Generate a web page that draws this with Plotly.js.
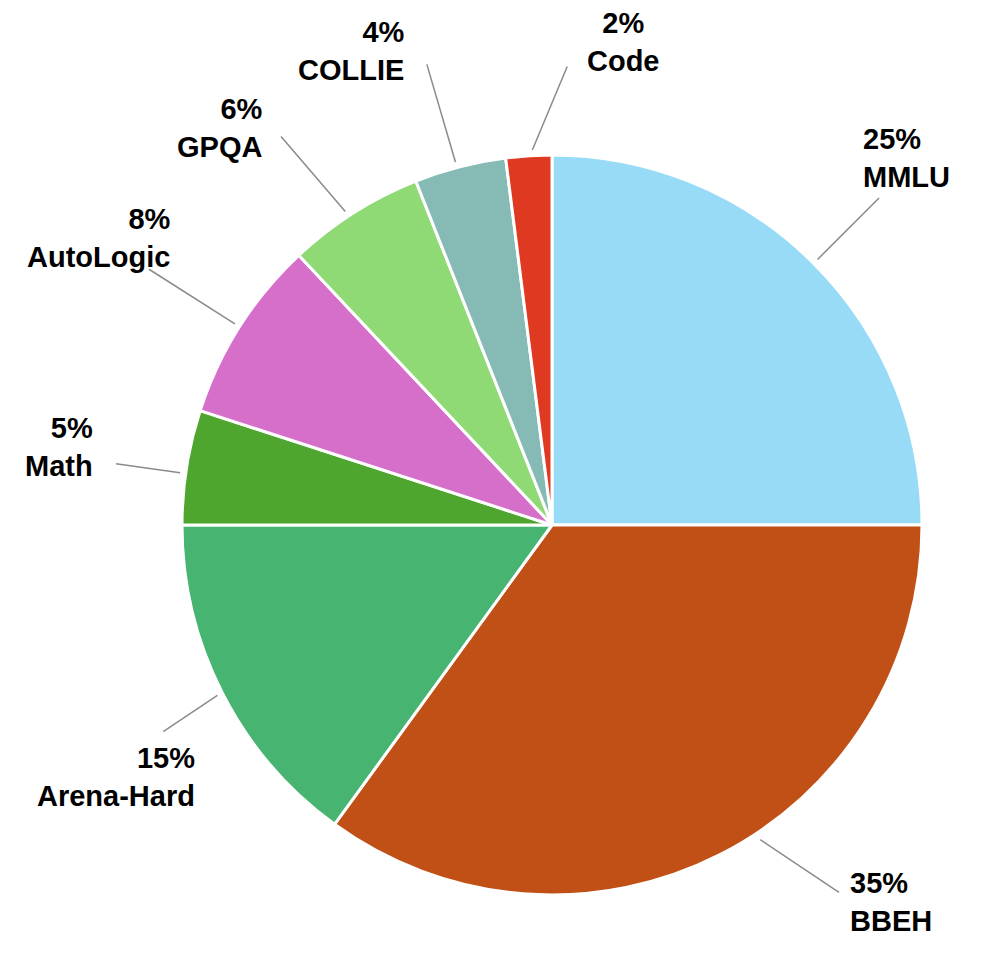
<!DOCTYPE html>
<html>
<head>
<meta charset="utf-8">
<script src="https://cdn.plot.ly/plotly-3.0.1.min.js"></script>
<style>
  html, body { margin: 0; padding: 0; background: #fff; }
  #chart { width: 997px; height: 955px; }
</style>
</head>
<body>
<div id="chart"></div>
<script>
// data, clockwise from 12 o'clock
const categories = ['MMLU', 'BBEH', 'Arena-Hard', 'Math', 'AutoLogic', 'GPQA', 'COLLIE', 'Code'];
const shares = [25, 35, 15, 5, 8, 6, 4, 2];
const sliceColors = ['#97DBF7', '#C05015', '#47B472', '#4FA62F', '#D66FCA', '#90DA76', '#86BBB5', '#E03922'];

// label placement tweaks: [angle nudge (deg), radius factor]
const textPlace = [[-1, 1.38], [-15, 1.37], [-3, 1.36], [0, 1.35], [0, 1.45], [-7.5, 1.40], [-8.5, 1.39], [12, 1.32]];
const textAlign = ['left', 'left', 'right', 'right', 'right', 'right', 'right', 'center'];
const lineFrom  = [[0, 1.015], [-6.5, 1.02], [0, 1.015], [-1, 1.015], [0, 1.015], [-1, 1.015], [-0.5, 1.015], [0.6, 1.015]];
const lineTo    = [[0, 1.25], [-11, 1.26], [-1, 1.19], [-1, 1.19], [0, 1.29], [-2.5, 1.28], [-0.8, 1.29], [5.5, 1.24]];

const W = 997, H = 955;
const cx = 552, cy = 525, R = 370;   // pixels

const total = shares.reduce((a, b) => a + b, 0);

// mid angle of every slice, degrees clockwise from top
const midAngles = [];
let acc = 0;
shares.forEach(v => {
    midAngles.push((acc + v / 2) / total * 360);
    acc += v;
});

function toPaper(angleDeg, rf) {
    const a = angleDeg * Math.PI / 180;
    const px = cx + R * rf * Math.sin(a);
    const py = cy - R * rf * Math.cos(a);
    return { x: px / W, y: 1 - py / H };
}

const annotations = categories.map((name, i) => {
    const p = toPaper(midAngles[i] + textPlace[i][0], textPlace[i][1]);
    const pct = Math.round(shares[i] / total * 100) + '%';
    return {
        x: p.x, y: p.y, xref: 'paper', yref: 'paper',
        xanchor: 'center', yanchor: 'middle',
        text: '<b>' + pct + '</b><br><b>' + name + '</b>',
        showarrow: false,
        align: textAlign[i],
        font: { family: 'Liberation Sans, Arial, sans-serif', size: 29, color: '#000' }
    };
});

const shapes = categories.map((name, i) => {
    const a = toPaper(midAngles[i] + lineFrom[i][0], lineFrom[i][1]);
    const b = toPaper(midAngles[i] + lineTo[i][0], lineTo[i][1]);
    return {
        type: 'line', xref: 'paper', yref: 'paper',
        x0: a.x, y0: a.y, x1: b.x, y1: b.y,
        line: { color: '#8a8a8a', width: 1.5 }
    };
});

const trace = {
    type: 'pie',
    labels: categories,
    values: shares,
    sort: false,
    direction: 'clockwise',
    rotation: 0,
    textinfo: 'none',
    hoverinfo: 'label+percent',
    marker: {
        colors: sliceColors,
        line: { color: '#ffffff', width: 3 }
    },
    domain: {
        x: [(cx - R) / W, (cx + R) / W],
        y: [(H - cy - R) / H, (H - cy + R) / H]
    }
};

const layout = {
    width: W,
    height: H,
    margin: { t: 0, r: 0, b: 0, l: 0 },
    showlegend: false,
    paper_bgcolor: 'white',
    plot_bgcolor: 'white',
    annotations: annotations,
    shapes: shapes
};

Plotly.newPlot('chart', [trace], layout, { displayModeBar: false, responsive: false });
</script>
</body>
</html>
